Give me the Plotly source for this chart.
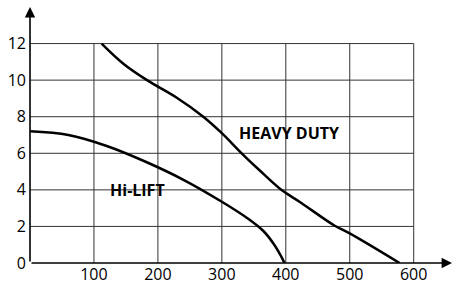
import plotly.graph_objects as go

# Data
x_ticks = [100, 200, 300, 400, 500, 600]
y_ticks = [0, 2, 4, 6, 8, 10, 12]

hi_lift_x = [0, 60, 120, 180, 240, 300, 340, 365, 382, 393, 398]
hi_lift_y = [7.2, 7.0, 6.4, 5.55, 4.55, 3.35, 2.45, 1.75, 1.0, 0.35, 0]

heavy_x = [112, 146, 183, 229, 271, 300, 331, 359, 393, 422, 476, 500, 578]
heavy_y = [12, 10.9, 10, 9.05, 8.0, 7.1, 6.0, 5.07, 4.0, 3.34, 2.05, 1.62, 0]

labels = ["Hi-LIFT", "HEAVY DUTY"]
label_x = [168, 405]
label_y = [4.0, 7.12]
label_size = [16, 16]

x_max = 660
y_max = 14

FONT = "Open Sans"

fig = go.Figure()
for xs, ys in [(hi_lift_x, hi_lift_y), (heavy_x, heavy_y)]:
    fig.add_trace(go.Scatter(
        x=xs, y=ys, mode="lines",
        line=dict(color="black", width=2.5, shape="spline", smoothing=1.0),
        hoverinfo="skip", showlegend=False,
    ))

# grid lines derived from tick arrays
for xv in x_ticks:
    fig.add_shape(type="line", x0=xv, x1=xv, y0=0, y1=max(y_ticks),
                  line=dict(color="#555555", width=1.2), layer="below")
for yv in y_ticks[1:]:
    fig.add_shape(type="line", x0=0, x1=max(x_ticks), y0=yv, y1=yv,
                  line=dict(color="#333333", width=1), layer="below")

# axis arrows
fig.add_annotation(x=x_max, y=0, ax=0, ay=0, xref="x", yref="y", axref="x", ayref="y",
                   text="", showarrow=True, arrowhead=2, arrowsize=1.3, arrowwidth=1.6,
                   arrowcolor="black")
fig.add_annotation(x=0, y=y_max, ax=0, ay=0, xref="x", yref="y", axref="x", ayref="y",
                   text="", showarrow=True, arrowhead=2, arrowsize=1.3, arrowwidth=1.6,
                   arrowcolor="black")

for t, lx, ly, fs in zip(labels, label_x, label_y, label_size):
    fig.add_annotation(x=lx, y=ly, text="<b>" + t + "</b>", showarrow=False,
                       font=dict(family=FONT, size=fs, color="black"))

fig.update_layout(
    width=452, height=288,
    margin=dict(l=30, r=0, t=7, b=25),
    plot_bgcolor="white", paper_bgcolor="white",
    font=dict(family=FONT, size=16, color="black"),
    xaxis=dict(range=[0, x_max], tickvals=x_ticks, showgrid=False, zeroline=False,
               showline=False, ticks="", tickfont=dict(size=16), fixedrange=True,
               automargin=False, ticklabelstandoff=0),
    yaxis=dict(range=[0, y_max], tickvals=y_ticks, showgrid=False, zeroline=False,
               showline=False, ticks="", tickfont=dict(size=16), ticklabelstandoff=3,
               fixedrange=True, automargin=False),
)

fig.write_html("out.html", config={"displayModeBar": False},
               post_script="document.body.style.margin='0px';")
